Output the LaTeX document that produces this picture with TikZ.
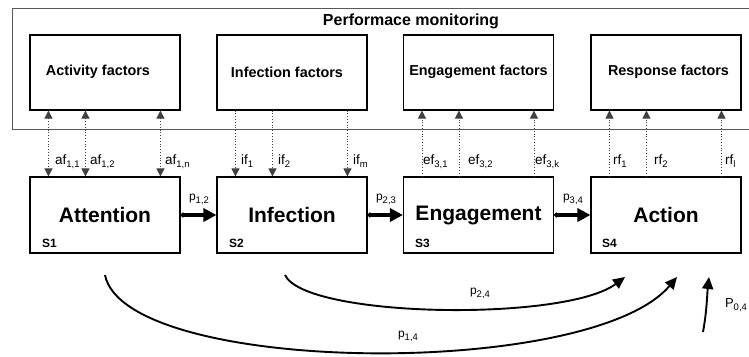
\documentclass[tikz,border=0pt]{standalone}
\usepackage{fontspec}
\setmainfont{Liberation Sans}
\usetikzlibrary{arrows.meta}
\newcommand\mysub[1]{\raisebox{-0.45ex}{\fontsize{9.5}{9.5}\selectfont #1}}
\begin{document}
\begin{tikzpicture}[x=1pt,y=-1pt,
  outerbox/.style={draw=black!65, line width=1pt},
  fbox/.style={draw=black, line width=1.1pt, minimum width=150pt, minimum height=75pt, inner sep=0pt},
  sbox/.style={draw=black, line width=1.1pt, minimum width=150pt, minimum height=76pt, inner sep=0pt},
  ftext/.style={font=\bfseries\fontsize{14.4}{16}\selectfont, inner sep=0pt},
  stext/.style={font=\bfseries\fontsize{21}{24}\selectfont, inner sep=0pt},
  stag/.style={font=\bfseries\fontsize{12}{14}\selectfont, inner sep=0pt, anchor=west},
  flabel/.style={font=\fontsize{13.5}{15}\selectfont, inner sep=0pt, anchor=base west},
  plabel/.style={font=\fontsize{12}{14}\selectfont, inner sep=0pt},
  dotline/.style={draw=black!75, dotted, line width=0.8pt},
  dothead/.style={-{Triangle[length=8pt,width=8pt]}},
  bothheads/.style={{Triangle[length=8pt,width=8pt]}-{Triangle[length=8pt,width=8pt]}},
  bigarrow/.style={line width=3.6pt, {Circle[length=4.5pt]}-{Triangle[length=13pt,width=13pt]}},
  curvearrow/.style={line width=1.9pt, -{Triangle[length=12pt,width=11pt]}}
]
\useasboundingbox (0,0) rectangle (749,356);
\fill[white] (0,0) rectangle (749,356);

% outer monitoring box (runs off the right edge)
\draw[outerbox] (760,8) -- (12,8) -- (12,129) -- (760,129);
\node[font=\bfseries\fontsize{16}{18}\selectfont, inner sep=0pt] (title) at (411,21) {Performace monitoring};

% factor boxes
\node[fbox] (af) at (105,72.5) {};
\node[fbox] (if) at (292,72.5) {};
\node[fbox] (ef) at (478.5,72.5) {};
\node[fbox] (rf) at (666,72.5) {};
\node[ftext] (aft) at (98,72) {Activity factors};
\node[ftext] (ift) at (287,72) {Infection factors};
\node[ftext] (eft) at (478.5,72) {Engagement factors};
\node[ftext] (rft) at (668.5,72) {Response factors};

% stage boxes
\node[sbox] (s1) at (105,215) {};
\node[sbox] (s2) at (292,215) {};
\node[sbox] (s3) at (478.5,215) {};
\node[sbox] (s4) at (666,215) {};
\node[stext] (s1t) at (105,215) {Attention};
\node[stext] (s2t) at (292,215) {Infection};
\node[stext] (s3t) at (478.5,215) {Engagement};
\node[stext] (s4t) at (666,215) {Action};
\node[stag] (s1g) at (42,243) {S1};
\node[stag] (s2g) at (229,243) {S2};
\node[stag] (s3g) at (415,243) {S3};
\node[stag] (s4g) at (602,243) {S4};

% dotted factor connectors
\foreach \o in {19,56,131}{
  \draw[dotline, bothheads] ([xshift=\o pt]af.south west) -- ([xshift=\o pt]s1.north west);
  \draw[dotline, dothead] ([xshift=\o pt]if.south west) -- ([xshift=\o pt]s2.north west);
  \draw[dotline, dothead] ([xshift=\o pt]s3.north west) -- ([xshift=\o pt]ef.south west);
  \draw[dotline, dothead] ([xshift=\o pt]s4.north west) -- ([xshift=\o pt]rf.south west);
}

% factor labels
\node[flabel] (l1) at (55,164) {af\mysub{1,1}};
\node[flabel] (l2) at (90,164) {af\mysub{1,2}};
\node[flabel] (l3) at (165,164) {af\mysub{1,n}};
\node[flabel] (l4) at (241,164) {if\mysub{1}};
\node[flabel] (l5) at (278,164) {if\mysub{2}};
\node[flabel] (l6) at (353,164) {if\mysub{m}};
\node[flabel] (l7) at (423,164) {ef\mysub{3,1}};
\node[flabel] (l8) at (468,164) {ef\mysub{3,2}};
\node[flabel] (l9) at (535,164) {ef\mysub{3,k}};
\node[flabel] (l10) at (613,164) {rf\mysub{1}};
\node[flabel] (l11) at (654,164) {rf\mysub{2}};
\node[flabel] (l12) at (725,164) {rf\mysub{l}};

% stage transitions
\draw[bigarrow] (s1.east) -- (s2.west);
\draw[bigarrow] (s2.east) -- (s3.west);
\draw[bigarrow] (s3.east) -- (s4.west);
\node[plabel] (p12) at (199,199) {p\mysub{1,2}};
\node[plabel] (p23) at (386,199) {p\mysub{2,3}};
\node[plabel] (p34) at (573,199) {p\mysub{3,4}};

% skip transitions
\coordinate (c14s) at (105,275);
\coordinate (c14e) at (677,277);
\coordinate (c24s) at (285,275);
\coordinate (c24e) at (625,277);
\coordinate (c04s) at (703,332);
\coordinate (c04e) at (709,277);
\draw[curvearrow] (c14s) .. controls (125,375) and (590,380) .. (c14e);
\draw[curvearrow] (c24s) .. controls (305,318) and (565,322) .. (c24e);
\draw[curvearrow] (c04s) .. controls (707,310) and (707,295) .. (c04e);
\node[plabel] (p24) at (480,293) {p\mysub{2,4}};
\node[plabel] (p14) at (408,336) {p\mysub{1,4}};
\node[plabel, font=\fontsize{13}{15}\selectfont] (p04) at (736,305) {P\mysub{0,4}};
\end{tikzpicture}
\end{document}
